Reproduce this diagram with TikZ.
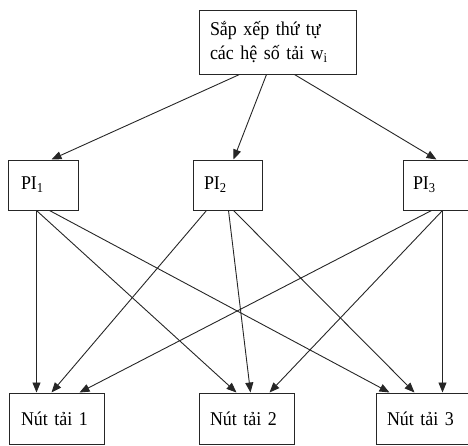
\documentclass[tikz,border=0pt]{standalone}
\usepackage{fontspec}
\setmainfont{Liberation Serif}[FakeStretch=0.92,WordSpace=0.75]
\usetikzlibrary{arrows.meta}
\begin{document}
\begin{tikzpicture}[x=1pt,y=-1pt,
  box/.style={draw=black!85, line width=1pt, align=left, inner xsep=12pt, inner ysep=0pt,
    font=\fontsize{19.5}{24}\selectfont, anchor=center},
  arr/.style={draw=black!85, line width=0.9pt, -{Triangle[length=10pt,width=8pt]}}]
\useasboundingbox (0,0) rectangle (468,445);
\node[box, minimum width=157pt, minimum height=64pt, text width=135pt, inner xsep=11pt] (top) at (277.5,42) {Sắp xếp thứ tự\\các hệ số tải w\textsubscript{i}};
\node[box, minimum width=70pt, minimum height=50pt, text width=46pt] (pi1) at (43,185) {\hspace{1pt}PI\textsubscript{1}};
\node[box, minimum width=69pt, minimum height=50pt, text width=47pt, inner xsep=11pt] (pi2) at (227.5,185) {PI\textsubscript{2}};
\node[box, minimum width=68pt, minimum height=50pt, text width=48pt, inner xsep=10pt] (pi3) at (437,185) {PI\textsubscript{3}};
\node[box, minimum width=95pt, minimum height=51pt, text width=71pt] (n1) at (56.5,418.5) {Nút tải 1};
\node[box, minimum width=95pt, minimum height=51pt, text width=73pt, inner xsep=11pt] (n2) at (246.5,418.5) {Nút tải 2};
\node[box, minimum width=95pt, minimum height=51pt, text width=73pt, inner xsep=11pt] (n3) at (423.5,418.5) {Nút tải 3};
% top to PI
\draw[arr] ([xshift=41pt]top.south west) -- ([xshift=44pt]pi1.north west);
\draw[arr] ([xshift=68pt]top.south west) -- ([xshift=41pt]pi2.north west);
\draw[arr] ([xshift=96pt]top.south west) -- ([xshift=34pt]pi3.north west);
% PI1
\draw[arr] ([xshift=29pt]pi1.south west) -- ([xshift=28pt]n1.north west);
\draw[arr] ([xshift=29pt]pi1.south west) -- ([xshift=38pt]n2.north west);
\draw[arr] ([xshift=42pt]pi1.south west) -- ([xshift=14pt]n3.north west);
% PI2
\draw[arr] ([xshift=14pt]pi2.south west) -- ([xshift=43pt]n1.north west);
\draw[arr] ([xshift=36pt]pi2.south west) -- ([xshift=52pt]n2.north west);
\draw[arr] ([xshift=41pt]pi2.south west) -- ([xshift=39pt]n3.north west);
% PI3
\draw[arr] ([xshift=29pt]pi3.south west) -- ([xshift=71pt]n1.north west);
\draw[arr] ([xshift=40pt]pi3.south west) -- ([xshift=71pt]n2.north west);
\draw[arr] ([xshift=40pt]pi3.south west) -- ([xshift=67pt]n3.north west);
\end{tikzpicture}
\end{document}
